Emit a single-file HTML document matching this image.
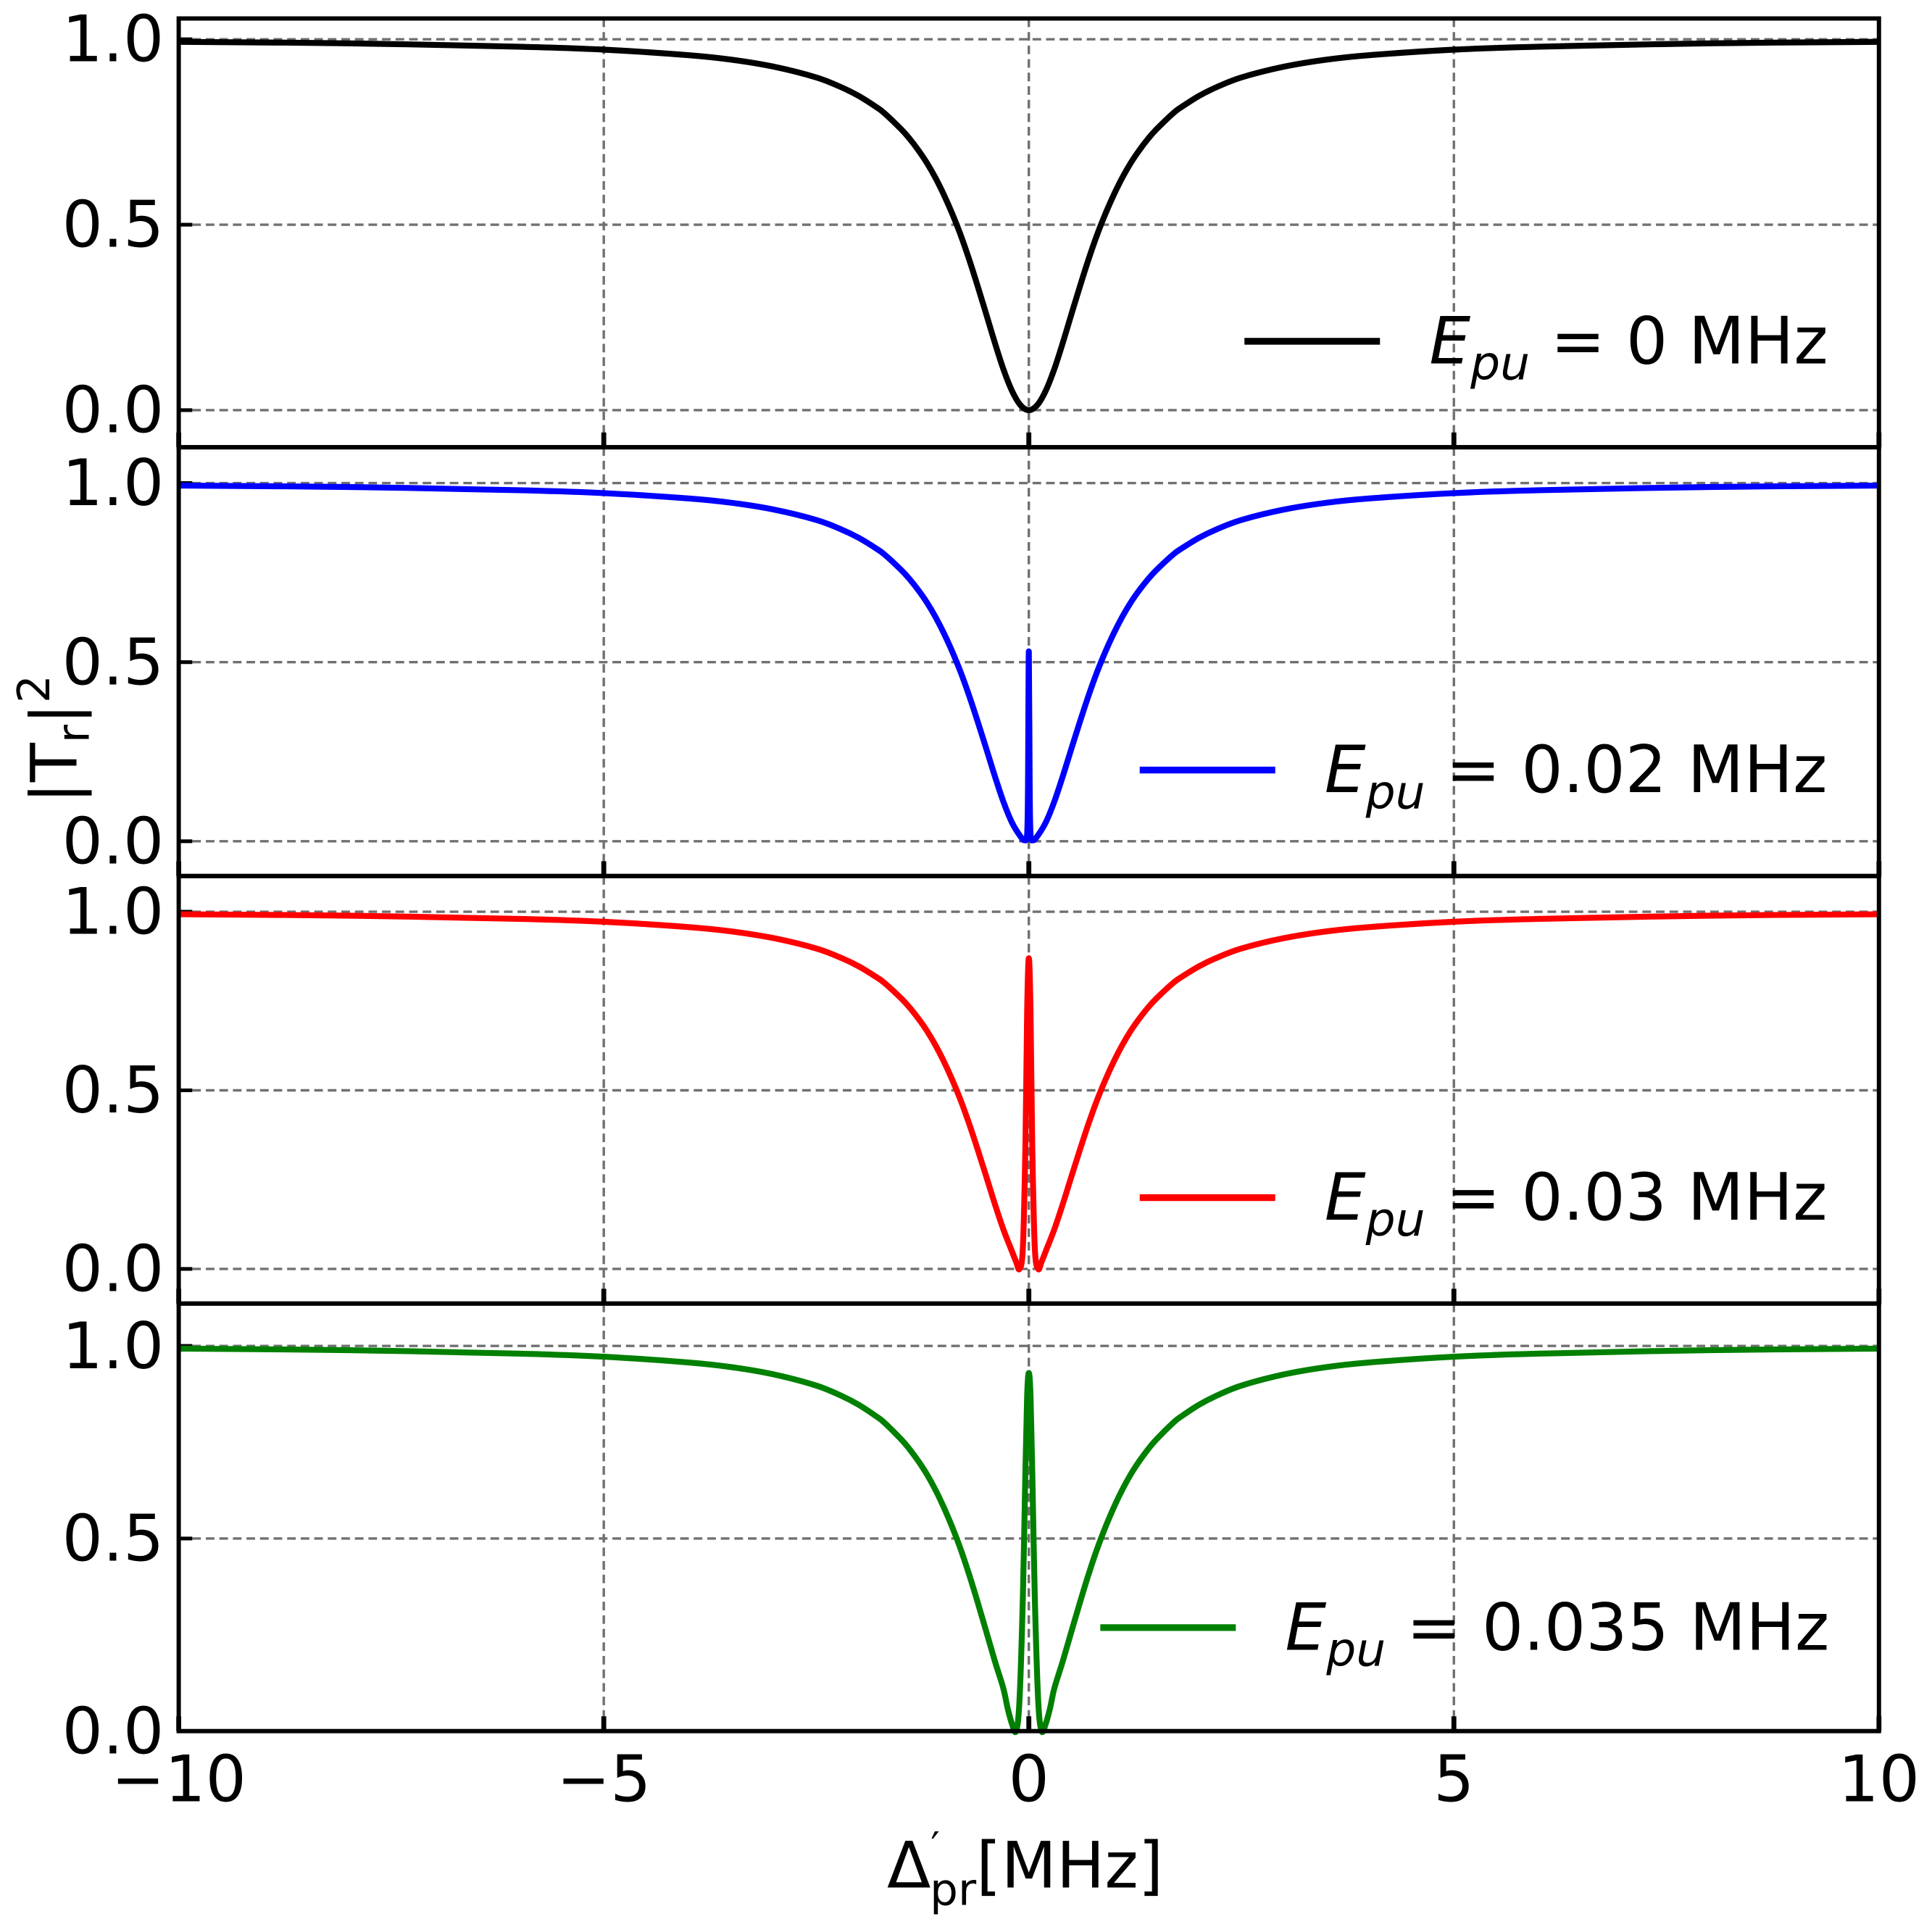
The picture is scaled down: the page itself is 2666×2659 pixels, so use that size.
<!DOCTYPE html>
<html><head><meta charset="utf-8"><style>
html,body{margin:0;padding:0;background:#fff}
svg{display:block}
text{font-family:"DejaVu Sans","Liberation Sans",sans-serif;fill:#000}
</style></head><body>
<svg id="chart" width="2666" height="2659" viewBox="0 0 1568 1564" xmlns="http://www.w3.org/2000/svg">
<g id="root"></g>
</svg>
<script>
// ---- data ----
const xTicks = [-10, -5, 0, 5, 10];
const xTickLabels = ["\u221210", "\u22125", "0", "5", "10"];
const yTicks = [0, 0.5, 1.0];
const yTickLabels = ["0.0", "0.5", "1.0"];
const seriesColors = ["#000000", "#0000ff", "#ff0000", "#008000"];
const seriesLabels = ["0", "0.02", "0.03", "0.035"];
// outer (shared) part of the profile, negative side; mirrored for positive side
const outerX = [-10, -8, -6, -5, -4, -3.5, -3, -2.5, -2.2, -2, -1.8, -1.7, -1.5, -1.4, -1.3, -1.2, -1.1, -1, -0.9, -0.8, -0.7, -0.6, -0.5, -0.4, -0.3];
const outerY = [0.993, 0.989, 0.98, 0.972, 0.957, 0.945, 0.926, 0.897, 0.870, 0.847, 0.818, 0.801, 0.757, 0.731, 0.701, 0.667, 0.627, 0.581, 0.529, 0.471, 0.405, 0.333, 0.258, 0.182, 0.111];
// center part per series (negative side incl. 0)
const centerX0 = [-0.2, -0.1, 0];
const centerY0 = [0.053, 0.014, 0];
const centerX1 = [-0.2, -0.1, -0.05, -0.02, -0.01, 0];
const centerY1 = [0.053, 0.014, 0.003, 0.02, 0.15, 0.53];
const centerX2 = [-0.2, -0.15, -0.11, -0.07, -0.04, -0.02, 0];
const centerY2 = [0.05, 0.02, 0.0, 0.06, 0.35, 0.72, 0.87];
const centerX3 = [-0.25, -0.2, -0.15, -0.11, -0.07, -0.04, -0.02, 0];
const centerY3 = [0.06, 0.02, 0.0, 0.08, 0.35, 0.68, 0.87, 0.93];
const centersX = [centerX0, centerX1, centerX2, centerX3];
const centersY = [centerY0, centerY1, centerY2, centerY3];
const yMins = [-0.1, -0.097, -0.097, 0];
const yMaxs = [1.056, 1.10, 1.10, 1.11];

// ---- layout ----
const L = 145, R = 1525;
const panelTops = [15, 363, 711, 1058];
const panelBots = [363, 711, 1058, 1405];
const legendY = [277, 625, 972, 1321];
const legendLineX = [[1010, 1120], [925, 1035], [925, 1035], [893, 1003]];
const NS = "http://www.w3.org/2000/svg";
const root = document.getElementById("root");
function el(tag, attrs, parent) {
  const e = document.createElementNS(NS, tag);
  for (const k in attrs) e.setAttribute(k, attrs[k]);
  (parent || root).appendChild(e);
  return e;
}
const xs = v => L + (v + 10) / 20 * (R - L);

for (let p = 0; p < 4; p++) {
  const top = panelTops[p], bot = panelBots[p];
  const ys = v => bot - (v - yMins[p]) / (yMaxs[p] - yMins[p]) * (bot - top);
  const g = el("g", {});
  
  
  xTicks.forEach(t => {
    if (t === -10 || t === 10) return;
    const ln = el("line", {x1: xs(t), x2: xs(t), y1: top, y2: bot, stroke: "#707070", "stroke-width": 2, "stroke-dasharray": "7,4"}, g);
    
    
  });
  yTicks.forEach((t, i) => {
    const y = ys(t);
    if (Math.abs(y - bot) > 1) {
      const ln = el("line", {x1: L, x2: R, y1: y, y2: y, stroke: "#707070", "stroke-width": 2, "stroke-dasharray": "7,4"}, g);
      
      
    }
    const tk = el("line", {x1: L, x2: L + 11, y1: y, y2: y, stroke: "#000", "stroke-width": 3}, g);
    
    
    const tx = el("text", {x: 133, y: y + 18, "text-anchor": "end", "font-size": 52}, g);
    tx.textContent = yTickLabels[i];
    
    
  });
  xTicks.forEach(t => {
    const tk = el("line", {x1: xs(t), x2: xs(t), y1: bot, y2: bot - 12, stroke: "#000", "stroke-width": 4}, g);
    
    
  });
  const px = [], py = [];
  outerX.forEach((x, i) => { px.push(x); py.push(outerY[i]); });
  centersX[p].forEach((x, i) => { px.push(x); py.push(centersY[p][i]); });
  for (let i = centersX[p].length - 2; i >= 0; i--) { px.push(-centersX[p][i]); py.push(centersY[p][i]); }
  for (let i = outerX.length - 1; i >= 0; i--) { px.push(-outerX[i]); py.push(outerY[i]); }
  const pts = px.map((x, i) => [xs(x), ys(py[i])]);
  let d = "M" + pts[0][0] + "," + pts[0][1];
  for (let i = 0; i < pts.length - 1; i++) {
    const p0 = pts[Math.max(0, i - 1)], p1 = pts[i], p2 = pts[i + 1], p3 = pts[Math.min(pts.length - 1, i + 2)];
    const c1x = p1[0] + (p2[0] - p0[0]) / 6, c1y = p1[1] + (p2[1] - p0[1]) / 6;
    const c2x = p2[0] - (p3[0] - p1[0]) / 6, c2y = p2[1] - (p3[1] - p1[1]) / 6;
    d += " C" + c1x + "," + c1y + " " + c2x + "," + c2y + " " + p2[0] + "," + p2[1];
  }
  const path = el("path", {d: d, fill: "none", stroke: seriesColors[p], "stroke-width": 4.8, "stroke-linejoin": "round"}, g);
  
  
  const ly = legendY[p];
  const lg = el("g", {}, g);
  
  
  el("line", {x1: legendLineX[p][0], x2: legendLineX[p][1], y1: ly, y2: ly, stroke: seriesColors[p], "stroke-width": 5.5}, lg);
  const lt = el("text", {x: legendLineX[p][1] + 40, y: ly + 18, "font-size": 53}, lg);
  lt.innerHTML = '<tspan font-style="italic">E</tspan><tspan font-style="italic" font-size="38" dy="13">pu</tspan><tspan dy="-13"> = ' + seriesLabels[p] + ' MHz</tspan>';
  const fr = el("rect", {x: L, y: top, width: R - L, height: bot - top, fill: "none", stroke: "#000", "stroke-width": 3.5}, g);
  
  
}
xTicks.forEach((t, i) => {
  const tx = el("text", {x: xs(t), y: 1462, "text-anchor": "middle", "font-size": 52});
  tx.textContent = xTickLabels[i];
  
  
});
const xl = el("text", {x: 832, y: 1532, "text-anchor": "middle", "font-size": 52});
xl.innerHTML = 'Δ<tspan font-size="32" dy="-22">′</tspan><tspan font-size="36" dx="-8" dy="36">pr</tspan><tspan dy="-14">[MHz]</tspan>';


const yl = el("text", {x: 0, y: 0, "text-anchor": "middle", "font-size": 52, transform: "translate(62,600) rotate(-90)"});
yl.innerHTML = '|T<tspan font-size="36" dy="10">r</tspan><tspan dy="-10">|</tspan><tspan font-size="36" dy="-22">2</tspan>';


</script>
</body></html>
